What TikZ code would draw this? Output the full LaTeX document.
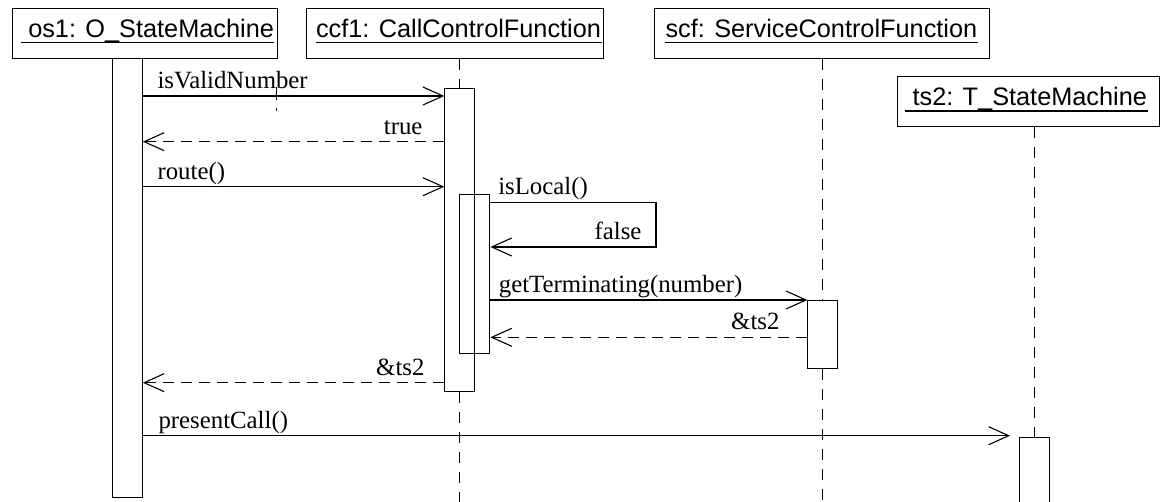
\documentclass[tikz,border=0pt]{standalone}
\usepackage{fontspec}
\setmainfont{Liberation Serif}
\newfontfamily\hdrfont{Liberation Sans}
\usetikzlibrary{arrows.meta,calc}

\begin{document}
\begin{tikzpicture}[x=1pt,y=-1pt,line width=1.1pt,
  objbox/.style={draw,fill=white,inner sep=0pt,anchor=north west,minimum height=50pt},
  hdrtxt/.style={inner sep=0pt,anchor=base west,font=\hdrfont\fontsize{25.3}{30}\selectfont},
  uline/.style={line width=1.1pt},
  actbox/.style={draw,fill=white,inner sep=0pt,anchor=north west,minimum width=30pt},
  nestbox/.style={draw,inner sep=0pt,anchor=north west,minimum width=30pt},
  life/.style={dash pattern=on 11pt off 9pt},
  lbl/.style={inner sep=0pt,font=\fontsize{24.8}{28}\selectfont},
  msg/.style={-{Straight Barb[length=20pt,width=18pt,line width=1.1pt]}},
  ret/.style={msg,dash pattern=on 11.5pt off 6.5pt}]

\useasboundingbox (0,0) rectangle (1164,502);
\coordinate (bottom) at (0,503);

% object headers
\node[objbox,minimum width=265.6pt] (os1) at (11.7,8.3) {};
\node[objbox,minimum width=297.3pt] (ccf1) at (306,8.3) {};
\node[objbox,minimum width=335pt] (scf) at (654,8.3) {};
\node[objbox,minimum width=262pt] (ts2) at (896.7,76) {};

\node[hdrtxt] (os1t) at (20.7,37.3) {\ os1: O\_StateMachine};
\node[hdrtxt] (ccf1t) at (315.5,37.3) {ccf1: CallControlFunction};
\node[hdrtxt] (scft) at (665,37.3) {scf: ServiceControlFunction\ };
\node[hdrtxt] (ts2t) at (905,106) {\ ts2: T\_StateMachine};
\foreach \t in {os1t,ccf1t,scft,ts2t}
  \draw[uline] ($(\t.base west)+(0,5)$) -- ($(\t.base east)+(0,5)$);

% activation bars
\node[actbox,minimum height=438.4pt] (os1act) at (111.7,58.3) {};
\node[actbox,minimum height=302.7pt] (ccfact) at (444.3,88.3) {};
\node[actbox,minimum height=68pt] (scfact) at (807.3,300) {};
\node[actbox,minimum height=70pt] (ts2act) at (1019,436.7) {};

% lifelines
\draw[life] (ccfact.north |- ccf1.south) -- (ccfact.north);
\draw[life] (ccfact.south) -- (ccfact.south |- bottom);
\draw[life] (scfact.north |- scf.south) -- (scfact.north);
\draw[life] (scfact.south) -- (scfact.south |- bottom);
\draw[life] (ts2act.north |- ts2.south) -- (ts2act.north);

% nested activation on ccf1
\node[nestbox,minimum height=159pt] (ccfnest) at (459.3,194.3) {};

% message levels
\coordinate (m1) at (0,96);
\coordinate (m2) at (0,141.7);
\coordinate (m3) at (0,186.7);
\coordinate (m4) at (0,202.3);
\coordinate (m5) at (0,247);
\coordinate (m6) at (0,300);
\coordinate (m7) at (0,337.3);
\coordinate (m8) at (0,382.7);
\coordinate (m9) at (0,435.7);
\coordinate (loopr) at (656,0);

% messages
\draw[msg] (os1act.east |- m1) -- (ccfact.west |- m1);
\draw[ret] (ccfact.west |- m2) -- (os1act.east |- m2);
\draw[msg] (os1act.east |- m3) -- (ccfact.west |- m3);
\draw[msg] (ccfnest.east |- m4) -- (loopr |- m4) -- (loopr |- m5) -- (ccfnest.east |- m5);
\draw[msg] (ccfnest.east |- m6) -- (scfact.west |- m6);
\draw[ret] (scfact.west |- m7) -- (ccfnest.east |- m7);
\draw[ret] (ccfact.west |- m8) -- (os1act.east |- m8);
\draw[msg,shorten >=9pt] (os1act.east |- m9) -- (ts2act.west |- m9);

% small tick under the first message
\draw[line width=0.8pt] (276,87) -- (276,100);
\draw[line width=0.8pt] (276,108.5) -- (276,111);

% message labels
\node[lbl,anchor=base west] (l1) at (157,89) {isValidNumber};
\node[lbl,anchor=base east] (l2) at (423,134.7) {true};
\node[lbl,anchor=base west] (l3) at (157,180) {route()};
\node[lbl,anchor=base west] (l4) at (497.7,195) {isLocal()};
\node[lbl,anchor=base east] (l5) at (642,240) {false};
\node[lbl,anchor=base west] (l6) at (498.3,293) {getTerminating(number)};
\node[lbl,anchor=base east] (l7) at (780,330) {\&ts2};
\node[lbl,anchor=base east] (l8) at (425,375.7) {\&ts2};
\node[lbl,anchor=base west] (l9) at (158,428) {presentCall()};
\end{tikzpicture}
\end{document}
